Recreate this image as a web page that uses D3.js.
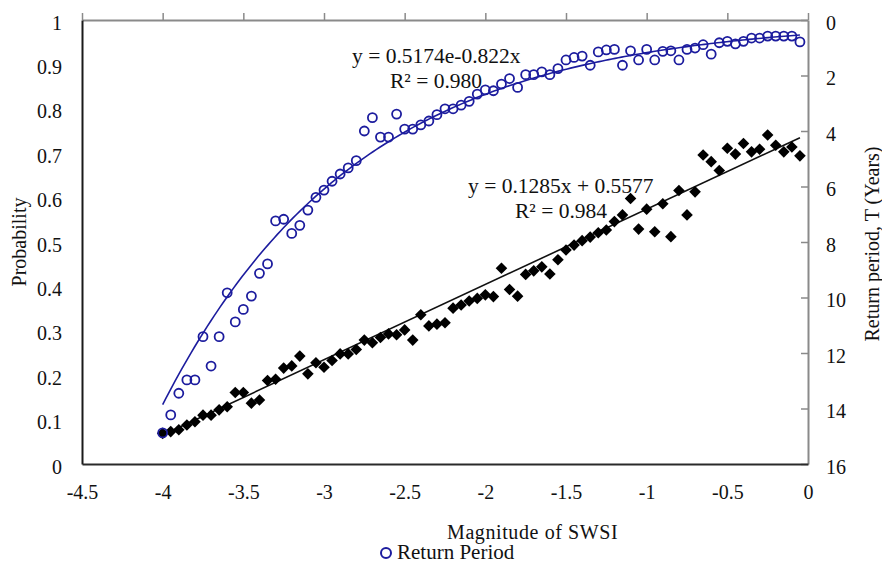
<!DOCTYPE html>
<html>
<head>
<meta charset="utf-8">
<script src="https://cdn.jsdelivr.net/npm/d3@7/dist/d3.min.js"></script>
<style>
  html, body { margin: 0; padding: 0; background: #fff; }
  svg { display: block; }
  text { font-family: "Liberation Serif", "Times New Roman", serif; fill: #111; }
</style>
</head>
<body>
<svg id="chart" width="882" height="565"></svg>
<script>
// ---------- DATA ----------
const swsi = [-4.00,-3.95,-3.90,-3.85,-3.80,-3.75,-3.70,-3.65,-3.60,-3.55,-3.50,-3.45,-3.40,-3.35,-3.30,-3.25,-3.20,-3.15,-3.10,-3.05,
              -3.00,-2.95,-2.90,-2.85,-2.80,-2.75,-2.70,-2.65,-2.60,-2.55,-2.50,-2.45,-2.40,-2.35,-2.30,-2.25,-2.20,-2.15,-2.10,-2.05,
              -2.00,-1.95,-1.90,-1.85,-1.80,-1.75,-1.70,-1.65,-1.60,-1.55,-1.50,-1.45,-1.40,-1.35,-1.30,-1.25,-1.20,-1.15,-1.10,-1.05,
              -1.00,-0.95,-0.90,-0.85,-0.80,-0.75,-0.70,-0.65,-0.60,-0.55,-0.50,-0.45,-0.40,-0.35,-0.30,-0.25,-0.20,-0.15,-0.10,-0.05];

// Return period T (years), plotted on the right (inverted) axis
const returnPeriod = [14.88,14.23,13.45,12.97,12.97,11.41,12.47,11.41,9.83,10.88,10.43,9.95,9.13,8.79,7.24,7.18,7.69,7.40,6.85,6.39,
                      6.13,5.81,5.55,5.33,5.07,4.00,3.52,4.22,4.22,3.39,3.93,3.93,3.78,3.64,3.41,3.20,3.20,3.07,2.93,2.67,
                      2.52,2.55,2.31,2.11,2.43,1.97,1.97,1.87,1.97,1.75,1.44,1.35,1.30,1.63,1.15,1.08,1.06,1.63,1.11,1.44,
                      1.06,1.44,1.13,1.11,1.44,1.06,1.01,0.89,1.23,0.82,0.77,0.86,0.77,0.65,0.65,0.58,0.58,0.58,0.58,0.79];

// Probability, plotted on the left axis
const probability = [0.069,0.073,0.077,0.088,0.095,0.110,0.110,0.122,0.129,0.161,0.161,0.137,0.144,0.188,0.191,0.216,0.221,0.243,0.203,0.228,
                     0.218,0.233,0.248,0.248,0.258,0.279,0.273,0.285,0.293,0.291,0.302,0.279,0.336,0.311,0.315,0.318,0.351,0.358,0.367,0.373,
                     0.381,0.377,0.441,0.393,0.378,0.427,0.435,0.444,0.428,0.460,0.482,0.493,0.503,0.511,0.521,0.527,0.546,0.561,0.598,0.529,
                     0.574,0.523,0.586,0.512,0.616,0.561,0.613,0.696,0.681,0.661,0.711,0.698,0.722,0.703,0.709,0.741,0.718,0.703,0.714,0.694];

// Trend lines
const expFit = { a: 0.5174, b: -0.822 };        // T = a * exp(b * x)
const linFit = { slope: 0.1696, intercept: 0.7435 }; // line as drawn
const fitRange = [-4.0, -0.05];

// Tick labels
const xTicks = [-4.5, -4, -3.5, -3, -2.5, -2, -1.5, -1, -0.5, 0];
const probTicks = [0, 0.1, 0.2, 0.3, 0.4, 0.5, 0.6, 0.7, 0.8, 0.9, 1];
const periodTicks = [0, 2, 4, 6, 8, 10, 12, 14, 16];

const eqTexts = ["y = 0.5174e-0.822x", "R² = 0.980", "y = 0.1285x + 0.5577", "R² = 0.984"];

// ---------- CHART ----------
const svg = d3.select("#chart");
const L = 82, R = 808, T = 20, B = 464;
const blue = "#1c1c9e";
const serif = '"Liberation Serif", "Times New Roman", serif';

const x = d3.scaleLinear().domain([-4.5, 0]).range([L, R]);
const yP = d3.scaleLinear().domain([0, 1]).range([B, T]);
const yT = d3.scaleLinear().domain([0, 16]).range([T, B]);
const fmt = d => String(d);

function styleLabels(g) {
  g.attr("font-family", serif).attr("font-size", 20);
  g.selectAll(".tick text").attr("fill", "#111").style("font-family", serif).style("font-size", "20px");
}

// top axis (ticks only, outward)
const gTop = svg.append("g").attr("transform", `translate(0,${T})`)
  .call(d3.axisTop(x).tickValues(xTicks).tickSizeInner(7).tickSizeOuter(0).tickFormat(""));
gTop.select(".domain").attr("stroke", "#8a8a8a").attr("stroke-width", 2);
gTop.selectAll(".tick line").attr("stroke", "#8a8a8a").attr("stroke-width", 1.5);

// right axis (ticks inward)
const gRight = svg.append("g").attr("transform", `translate(${R},0)`)
  .call(d3.axisRight(yT).tickValues(periodTicks).tickSizeInner(-7).tickSizeOuter(0).tickPadding(18).tickFormat(fmt));
gRight.select(".domain").attr("stroke", "#8a8a8a").attr("stroke-width", 2);
gRight.selectAll(".tick line").attr("stroke", "#8a8a8a").attr("stroke-width", 1.5);
styleLabels(gRight);
gRight.selectAll(".tick text").attr("dy", "0.45em");

// left axis
const gLeft = svg.append("g").attr("transform", `translate(${L},0)`)
  .call(d3.axisLeft(yP).tickValues(probTicks).tickSize(0).tickPadding(20).tickFormat(fmt));
gLeft.select(".domain").attr("stroke", "#1a1a1a").attr("stroke-width", 2);
styleLabels(gLeft);
gLeft.selectAll(".tick text").attr("dy", "0.45em");

// bottom axis
const gBottom = svg.append("g").attr("transform", `translate(0,${B})`)
  .call(d3.axisBottom(x).tickValues(xTicks).tickSize(0).tickPadding(21).tickFormat(fmt));
gBottom.select(".domain").attr("stroke", "#2a2a2a").attr("stroke-width", 2);
styleLabels(gBottom);

// axis titles
svg.append("text").attr("transform", `translate(26,242) rotate(-90)`)
  .attr("text-anchor", "middle").attr("font-size", 20).text("Probability");
svg.append("text").attr("transform", `translate(879,244) rotate(-90)`)
  .attr("text-anchor", "middle").attr("font-size", 20).text("Return period, T (Years)");
svg.append("text").attr("x", 447).attr("y", 539)
  .attr("font-size", 20).attr("letter-spacing", 0.6).text("Magnitude of SWSI");

// trend curves
const samples = d3.range(0, 201).map(i => fitRange[0] + (fitRange[1] - fitRange[0]) * i / 200);
svg.append("path")
  .datum(samples)
  .attr("fill", "none").attr("stroke", blue).attr("stroke-width", 1.6)
  .attr("d", d3.line().x(d => x(d)).y(d => yT(expFit.a * Math.exp(expFit.b * d))));

svg.append("path")
  .datum(fitRange)
  .attr("fill", "none").attr("stroke", "#111").attr("stroke-width", 1.6)
  .attr("d", d3.line().x(d => x(d)).y(d => yP(linFit.slope * d + linFit.intercept)));

// black diamonds (probability)
const diamond = "M0,-5.8L5.8,0L0,5.8L-5.8,0Z";
svg.append("g").selectAll("path")
  .data(swsi.map((s, i) => [s, probability[i]]))
  .join("path")
  .attr("d", diamond)
  .attr("transform", d => `translate(${x(d[0])},${yP(d[1])})`)
  .attr("fill", "#000");

// blue circles (return period)
svg.append("g").selectAll("circle")
  .data(swsi.map((s, i) => [s, returnPeriod[i]]))
  .join("circle")
  .attr("cx", d => x(d[0])).attr("cy", d => yT(d[1])).attr("r", 4.5)
  .attr("fill", "none").attr("stroke", blue).attr("stroke-width", 1.8);

// equation labels
const eqSize = 21.5;
svg.append("text").attr("x", 352).attr("y", 63).attr("font-size", eqSize).text(eqTexts[0]);
svg.append("text").attr("x", 390).attr("y", 88).attr("font-size", eqSize).text(eqTexts[1]);
svg.append("text").attr("x", 468).attr("y", 193).attr("font-size", eqSize).text(eqTexts[2]);
svg.append("text").attr("x", 515).attr("y", 218).attr("font-size", eqSize).text(eqTexts[3]);

// legend
svg.append("circle").attr("cx", 386).attr("cy", 553).attr("r", 5)
  .attr("fill", "none").attr("stroke", blue).attr("stroke-width", 2);
svg.append("text").attr("x", 397).attr("y", 559).attr("font-size", 21).text("Return Period");
</script>
</body>
</html>
